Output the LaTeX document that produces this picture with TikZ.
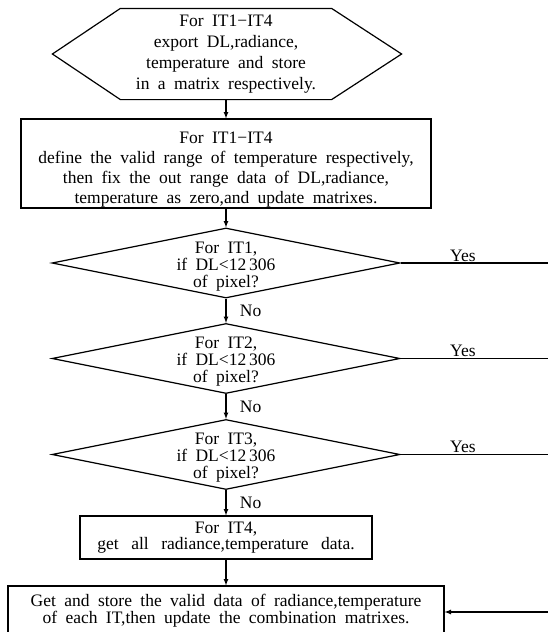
\documentclass[tikz,border=0pt]{standalone}
\usepackage{fontspec}
\setmainfont{Liberation Serif}
\usetikzlibrary{shapes.geometric,positioning,calc}
\newcommand{\flowfont}[1]{\fontsize{17.5}{#1}\selectfont\spaceskip=.48em\relax}
\newcommand{\topgap}[1]{\rule{0pt}{#1}}
\tikzstyle{hexnode}=[inner sep=0pt, minimum width=210pt, minimum height=90pt, align=center, font=\flowfont{21}]
\tikzstyle{procbox}=[draw, rectangle, inner sep=0pt, align=center]
\tikzstyle{decision}=[draw, diamond, aspect=5, inner sep=-3pt, minimum width=348pt, minimum height=70pt, align=center, font=\flowfont{17}]
\tikzstyle{flow}=[-latex]
\tikzstyle{answer}=[font=\flowfont{17}]
\tikzset{y=-1pt}
\tikzset{x=1pt}

\begin{document}
\begin{tikzpicture}[line width=1.2pt]
  \useasboundingbox (0,0) rectangle (547,632);
  \draw (226,54) node[hexnode] (export) {For IT1−IT4\\export DL,radiance,\\temperature and store\\in a matrix respectively.};
  \draw (export.north west) -- (export.north east) -- ([xshift=70pt]export.east) -- (export.south east) -- (export.south west) -- ([xshift=-68pt]export.west) -- cycle;

  \draw (226,163.5) node[procbox, minimum width=410pt, minimum height=89pt, font=\flowfont{20}] (fixrange) {\topgap{23.5pt}For IT1−IT4\\define the valid range of temperature respectively,\\then fix the out range data of DL,radiance,\\temperature as zero,and update matrixes.};

  \draw (226,263) node[decision] (dec1) {\topgap{18.5pt}For IT1,\\if DL<12\,306\\of pixel?};
  \draw (226,358.5) node[decision] (dec2) {\topgap{18.5pt}For IT2,\\if DL<12\,306\\of pixel?};
  \draw (226,454.5) node[decision] (dec3) {\topgap{18.5pt}For IT3,\\if DL<12\,306\\of pixel?};

  \draw (226,537.5) node[procbox, minimum width=292pt, minimum height=43pt, font=\flowfont{16}] (getit4) {For IT4,\\{\spaceskip=.72em get all radiance,temperature data.}};
  \draw (226,611) node[procbox, minimum width=436pt, minimum height=50pt, font=\flowfont{16}] (store) {Get and store the valid data of radiance,temperature\\of each IT,then update the combination matrixes.};

  \draw[flow] (export.south) -- (fixrange.north);
  \draw[flow] (fixrange.south) -- (dec1.north);
  \draw[flow] (dec1.south) -- node[answer, right, xshift=10pt] {No} (dec2.north);
  \draw[flow] (dec2.south) -- node[answer, right, xshift=10pt] {No} (dec3.north);
  \draw[flow] (dec3.south) -- node[answer, right, xshift=10pt] {No} (getit4.north);
  \draw[flow] (getit4.south) -- (store.north);

  %% Yes branches leave the page on the right
  \coordinate (yes1) at (549,263);
  \coordinate (yes2) at (549,358.5);
  \coordinate (yes3) at (549,454.5);
  \coordinate (back) at (549,612);
  \draw (dec1.east) -- node[answer, above, pos=.42, inner sep=1pt] {Yes} (yes1);
  \draw (dec2.east) -- node[answer, above, pos=.42, inner sep=1pt] {Yes} (yes2);
  \draw (dec3.east) -- node[answer, above, pos=.42, inner sep=1pt] {Yes} (yes3);
  \draw[flow] (back) -- (back -| store.east);
\end{tikzpicture}
\end{document}
